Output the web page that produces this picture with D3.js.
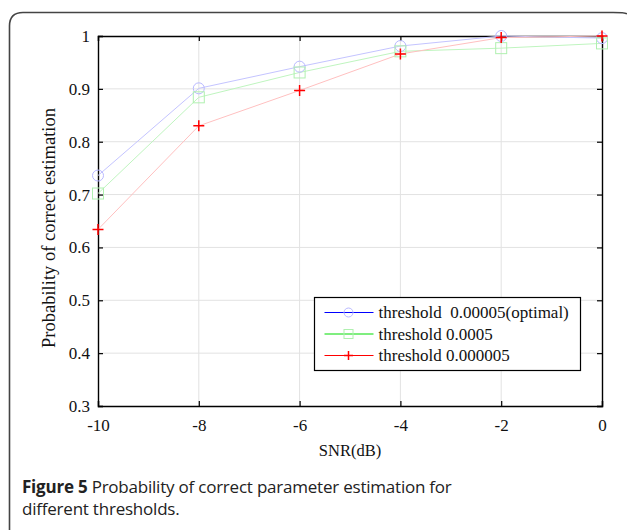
<!DOCTYPE html>
<html>
<head>
<meta charset="utf-8">
<script src="https://cdn.jsdelivr.net/npm/d3@7"></script>
<style>
  body { margin: 0; background: #fff; }
  svg { display: block; }
</style>
</head>
<body>
<svg id="chart"></svg>
<script>
// data
var snr = [-10, -8, -6, -4, -2, 0];
var optimalVals = [0.736, 0.901, 0.942, 0.981, 1.0, 0.996];
var highVals = [0.702, 0.884, 0.931, 0.971, 0.977, 0.986];
var lowVals = [0.634, 0.830, 0.897, 0.966, 0.997, 1.0];
var xTicks = [-10, -8, -6, -4, -2, 0];
var yTicks = [0.3, 0.4, 0.5, 0.6, 0.7, 0.8, 0.9, 1];
var seriesNames = ["threshold  0.00005(optimal)", "threshold 0.0005", "threshold 0.000005"];

var screen = { width: 627, height: 530 };
var margins = { top: 36, bottom: 124, left: 98, right: 25 };

var series = [
  { name: seriesNames[0], values: optimalVals, line: "#c4c4ff", mark: "#b8b8ff", key: "#0000ff", shape: "circle" },
  { name: seriesNames[1], values: highVals, line: "#bff5bf", mark: "#b0f0b0", key: "#00dd00", shape: "square" },
  { name: seriesNames[2], values: lowVals, line: "#ffc0c0", mark: "#ff0000", key: "#ff0000", shape: "plus" }
];

var drawChart = function(idName, screen, margins)
{
  var graphWidth = screen.width - margins.left - margins.right;
  var graphHeight = screen.height - margins.top - margins.bottom;

  var svg = d3.select(idName)
    .attr("width", screen.width)
    .attr("height", screen.height);

  // frame round the figure
  svg.append("path")
    .attr("d", "M9.5,530 L9.5,26 Q9.5,12.5 23,12.5 L613,12.5 Q626,12.5 627,14")
    .attr("fill", "none")
    .attr("stroke", "#444")
    .attr("stroke-width", 1.6);

  var x = d3.scaleLinear().domain([-10, 0]).range([0, graphWidth]);
  var y = d3.scaleLinear().domain([0.3, 1]).range([graphHeight, 0]);

  var g = svg.append("g")
    .attr("transform", "translate(" + margins.left + "," + margins.top + ")");

  // grid
  g.append("g").selectAll("line")
    .data(xTicks.slice(1, -1))
    .join("line")
      .attr("x1", d => x(d)).attr("x2", d => x(d))
      .attr("y1", 0).attr("y2", graphHeight)
      .attr("stroke", "#e2e2e2");
  g.append("g").selectAll("line")
    .data(yTicks.slice(1, -1))
    .join("line")
      .attr("x1", 0).attr("x2", graphWidth)
      .attr("y1", d => y(d)).attr("y2", d => y(d))
      .attr("stroke", "#e2e2e2");

  // axes
  var fontAxis = "'Liberation Serif', 'Times New Roman', serif";
  var xAxis = g.append("g")
    .attr("transform", "translate(0," + graphHeight + ")")
    .call(d3.axisBottom(x).tickValues(xTicks).tickSize(-5).tickPadding(13).tickFormat(d => String(d)));
  var xAxisTop = g.append("g")
    .call(d3.axisTop(x).tickValues(xTicks).tickSize(-5).tickFormat(""));
  var yAxis = g.append("g")
    .call(d3.axisLeft(y).tickValues(yTicks).tickSize(-5).tickPadding(10).tickFormat(d => d === 1 ? "1" : d3.format(".1f")(d)));
  var yAxisRight = g.append("g")
    .attr("transform", "translate(" + graphWidth + ",0)")
    .call(d3.axisRight(y).tickValues(yTicks).tickSize(-5).tickFormat(""));

  [xAxis, xAxisTop, yAxis, yAxisRight].forEach(function(a)
  {
    a.attr("font-size", 17).attr("font-family", fontAxis);
    a.select(".domain").attr("stroke", "#000").attr("stroke-width", 1.4);
    a.selectAll(".tick line").attr("stroke", "#000").attr("stroke-width", 1.2);
    a.selectAll("text").attr("fill", "#111");
  });
  xAxis.selectAll("text").attr("dy", "0.71em");
  yAxis.selectAll("text").attr("dx", "2");

  // axis labels
  svg.append("text")
    .attr("x", margins.left + graphWidth / 2)
    .attr("y", 456)
    .attr("text-anchor", "middle")
    .attr("font-family", fontAxis)
    .attr("font-size", 16.5)
    .attr("fill", "#111")
    .text("SNR(dB)");
  svg.append("text")
    .attr("transform", "translate(55,228) rotate(-90)")
    .attr("text-anchor", "middle")
    .attr("font-family", fontAxis)
    .attr("font-size", 18.5)
    .attr("fill", "#111")
    .text("Probability of correct estimation");

  // lines
  var line = d3.line()
    .x((d, i) => x(snr[i]))
    .y(d => y(d));

  g.append("g").selectAll("path")
    .data(series)
    .join("path")
      .attr("d", d => line(d.values))
      .attr("fill", "none")
      .attr("stroke", d => d.line)
      .attr("stroke-width", 1);

  // markers
  var drawMarker = function(sel, s, r)
  {
    if (s.shape === "circle")
    {
      sel.append("circle").attr("r", r).attr("fill", "none").attr("stroke", s.mark);
    }
    else if (s.shape === "square")
    {
      sel.append("rect").attr("x", -r).attr("y", -r).attr("width", 2 * r).attr("height", 2 * r)
        .attr("fill", "none").attr("stroke", s.mark);
    }
    else
    {
      sel.append("path").attr("d", "M" + (-r) + ",0H" + r + "M0," + (-r) + "V" + r)
        .attr("fill", "none").attr("stroke", s.mark).attr("stroke-width", 1.5);
    }
  };

  series.forEach(function(s)
  {
    g.append("g").selectAll("g")
      .data(s.values)
      .join("g")
        .attr("transform", (d, i) => "translate(" + x(snr[i]) + "," + y(d) + ")")
        .each(function() { drawMarker(d3.select(this), s, 5.5); });
  });

  // legend
  var legend = svg.append("g").attr("transform", "translate(314.5,297.5)");
  legend.append("rect")
    .attr("width", 266).attr("height", 73)
    .attr("fill", "#fff").attr("stroke", "#000").attr("stroke-width", 1.2);
  var rows = legend.selectAll("g.row")
    .data(series)
    .join("g")
      .attr("class", "row")
      .attr("transform", (d, i) => "translate(0," + (15 + i * 21.5) + ")");
  rows.append("line")
    .attr("x1", 10).attr("x2", 59)
    .attr("stroke", d => d.key).attr("stroke-width", 1.2);
  rows.each(function(d)
  {
    var m = d3.select(this).append("g").attr("transform", "translate(34,0)");
    drawMarker(m, d, 4.5);
  });
  rows.append("text")
    .attr("x", 64).attr("y", 5.5)
    .attr("font-family", fontAxis)
    .attr("font-size", 17)
    .attr("fill", "#111")
    .style("white-space", "pre")
    .text(d => d.name);

  // caption
  var caption = svg.append("text")
    .attr("font-family", "'Open Sans', 'Noto Sans', sans-serif")
    .attr("font-size", 17)
    .attr("letter-spacing", -0.22)
    .attr("fill", "#222");
  var l1 = caption.append("tspan").attr("x", 22).attr("y", 493);
  l1.append("tspan").attr("font-weight", "bold").text("Figure 5");
  l1.append("tspan").text(" Probability of correct parameter estimation for");
  caption.append("tspan").attr("x", 22).attr("y", 515).text("different thresholds.");
}

drawChart("#chart", screen, margins);
</script>
</body>
</html>
